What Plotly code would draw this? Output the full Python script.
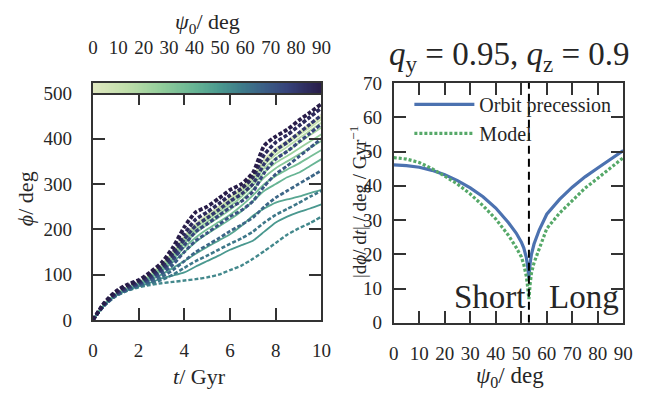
import numpy as np
import plotly.graph_objects as go
from plotly.colors import sample_colorscale

# ---------------- data ----------------
# time grid of the integrated orbits (Gyr)
t_gyr = [0, 0.5, 1, 1.5, 2, 2.5, 3, 3.5, 4, 4.5, 5, 5.5, 6, 6.5, 7, 7.5, 8, 8.5, 9, 9.5, 10]

# initial tilt angles of the orbits (deg); short-axis tubes below the critical angle
psi_short = [0, 5, 10, 15, 20, 25, 30, 35, 40, 45, 50]
psi_long = [55, 60, 65, 70, 75, 80, 85, 90]

# accumulated precession angle phi(t) (deg) for each orbit
phi_short = [
    [0, 35, 58, 72, 83, 101, 122, 150, 185, 212, 232, 250, 270, 293, 320, 355, 378, 396, 414, 433, 452],
    [0, 35, 58, 72, 82, 100, 122, 149, 184, 211, 231, 248, 268, 291, 318, 352, 375, 393, 411, 430, 448],
    [0, 35, 58, 71, 82, 100, 121, 148, 183, 209, 229, 246, 266, 288, 315, 348, 371, 389, 407, 425, 443],
    [0, 35, 57, 71, 82, 99, 120, 147, 181, 207, 226, 243, 262, 284, 310, 342, 365, 382, 400, 418, 435],
    [0, 35, 57, 71, 81, 98, 119, 145, 178, 203, 222, 238, 257, 279, 304, 335, 357, 373, 390, 408, 425],
    [0, 34, 57, 70, 81, 97, 117, 142, 173, 198, 217, 233, 251, 272, 297, 326, 347, 362, 378, 394, 410],
    [0, 34, 56, 70, 80, 96, 115, 138, 168, 192, 210, 226, 243, 264, 288, 315, 335, 350, 365, 380, 395],
    [0, 34, 56, 69, 79, 94, 112, 134, 160, 182, 200, 216, 232, 252, 275, 300, 318, 332, 345, 360, 375],
    [0, 33, 55, 68, 78, 92, 108, 128, 150, 172, 190, 206, 222, 240, 262, 285, 300, 315, 325, 340, 355],
    [0, 33, 54, 66, 76, 88, 100, 115, 130, 146, 161, 175, 189, 208, 230, 246, 259, 266, 272, 280, 287],
    [0, 32, 53, 65, 74, 82, 92, 98, 105, 118, 130, 142, 155, 165, 175, 195, 215, 228, 238, 246, 255],
]
phi_long = [
    [0, 31, 52, 64, 72, 77, 81, 84, 87, 90, 94, 100, 110, 120, 135, 152, 170, 188, 202, 214, 228],
    [0, 32, 53, 65, 74, 80, 88, 100, 115, 130, 142, 155, 168, 180, 195, 215, 232, 245, 258, 272, 285],
    [0, 32, 54, 66, 76, 84, 95, 110, 130, 150, 165, 180, 196, 210, 226, 250, 270, 285, 300, 315, 330],
    [0, 33, 55, 68, 78, 88, 102, 122, 150, 175, 192, 210, 228, 242, 262, 295, 322, 340, 360, 380, 400],
    [0, 34, 56, 70, 80, 92, 108, 132, 165, 195, 212, 230, 248, 262, 283, 325, 355, 372, 392, 412, 433],
    [0, 35, 58, 72, 82, 95, 112, 140, 178, 208, 225, 243, 262, 278, 300, 345, 375, 392, 412, 432, 452],
    [0, 36, 60, 75, 85, 100, 118, 148, 190, 222, 238, 256, 275, 290, 315, 365, 392, 408, 428, 448, 468],
    [0, 38, 63, 78, 88, 105, 126, 160, 205, 238, 250, 268, 287, 300, 325, 385, 405, 420, 440, 458, 477],
]

# mean precession rate against initial tilt (deg / Gyr)
psi_rate = [0, 5, 10, 15, 20, 25, 30, 35, 40, 45, 48, 50, 51, 52, 52.5, 53,
            53.5, 54, 55, 57, 60, 65, 70, 75, 80, 85, 90]
rate_orbit = [46.1, 45.9, 45.4, 44.5, 43.2, 41.5, 39.4, 36.8, 33.5, 29.2, 26.2, 23.6, 21.8, 19.0, 16.5, 13.0,
              17.5, 20.0, 23.0, 27.0, 31.7, 36.0, 39.6, 42.6, 45.2, 47.8, 50.3]
rate_model = [48.2, 47.8, 46.8, 45.0, 42.8, 40.5, 37.6, 34.2, 30.3, 25.5, 22.0, 19.3, 17.0, 13.5, 10.5, 6.9,
              11.5, 14.5, 17.5, 21.5, 27.5, 32.0, 35.8, 39.3, 42.2, 45.3, 48.2]

psi_crit = 53          # boundary between short- and long-axis tubes (deg)
qy, qz = 0.95, 0.9     # axis ratios of the potential

t_ticks = [0, 2, 4, 6, 8, 10]
phi_ticks = [0, 100, 200, 300, 400, 500]
psi_ticks = list(range(0, 91, 10))
rate_ticks = list(range(0, 71, 10))

# ---------------- style ----------------
FONT = "Liberation Serif"
INK = "#262626"
FRAME = "#333333"
W, H = 645, 403
TICK_SIZE = 19

psi_scale = [
    [0.00, "#e0e8c0"], [0.15, "#bfdeaa"], [0.30, "#92cd9b"], [0.45, "#65b394"],
    [0.55, "#4b9a8f"], [0.65, "#3e7c8a"], [0.75, "#3b5e86"], [0.85, "#36427a"],
    [1.00, "#281c48"],
]

def px_x(p):
    return p / W

def px_y(p):
    return (H - p) / H

fig = go.Figure()

# left panel: phi(t) for each orbit, coloured by psi_0
for psi, phi in zip(psi_short, phi_short):
    col = sample_colorscale(psi_scale, psi / 90)[0]
    fig.add_trace(go.Scatter(x=t_gyr, y=phi, mode="lines", xaxis="x", yaxis="y",
                             line=dict(color=col, width=1.8, shape="spline", smoothing=0.6),
                             showlegend=False, hoverinfo="skip"))
for psi, phi in zip(psi_long, phi_long):
    col = sample_colorscale(psi_scale, psi / 90)[0]
    fig.add_trace(go.Scatter(x=t_gyr, y=phi, mode="lines", xaxis="x", yaxis="y",
                             line=dict(color=col, width=2.4 + 1.4 * (psi - 55) / 35,
                                       dash="4px,2px", shape="spline", smoothing=0.6),
                             showlegend=False, hoverinfo="skip"))

# colour bar drawn as a one-row heatmap on its own axes
psi_grid = np.linspace(0, 90, 181)
fig.add_trace(go.Heatmap(z=[psi_grid], x=psi_grid, y=[0], xaxis="x3", yaxis="y3",
                         colorscale=psi_scale, zmin=0, zmax=90, showscale=False,
                         hoverinfo="skip"))

# right panel: precession rate
fig.add_trace(go.Scatter(x=psi_rate, y=rate_orbit, mode="lines", xaxis="x2", yaxis="y2",
                         name="Orbit precession", line=dict(color="#4c72b0", width=3.2)))
fig.add_trace(go.Scatter(x=psi_rate, y=rate_model, mode="lines", xaxis="x2", yaxis="y2",
                         name="Model", line=dict(color="#55a868", width=3.2, dash="3px,2px")))
fig.add_trace(go.Scatter(x=[psi_crit, psi_crit], y=[0, 70], mode="lines", xaxis="x2", yaxis="y2",
                         showlegend=False, hoverinfo="skip",
                         line=dict(color="black", width=2, dash="8px,5px")))

# empty traces that register the overlaid tick-mark axes
for xa, ya in (("x4", "y4"), ("x5", "y5")):
    fig.add_trace(go.Scatter(x=[], y=[], xaxis=xa, yaxis=ya, mode="lines",
                             showlegend=False, hoverinfo="skip"))

# labelled axes: frame + tick labels
label_axis = dict(showline=True, linecolor=FRAME, linewidth=2, mirror=True,
                  ticks="", showgrid=False, zeroline=False,
                  tickfont=dict(family=FONT, size=TICK_SIZE, color=INK))
# overlaid axes carrying the inward tick marks on all four sides
tick_axis = dict(showline=False, ticks="inside", ticklen=12, tickwidth=2, tickcolor=FRAME,
                 mirror="allticks", showticklabels=False, showgrid=False, zeroline=False,
                 layer="above traces")

fig.update_layout(
    width=W, height=H,
    margin=dict(l=0, r=0, t=0, b=0),
    paper_bgcolor="white", plot_bgcolor="white",
    font=dict(family=FONT, color=INK),
    xaxis=dict(domain=[px_x(90), px_x(324)], anchor="y", range=[0, 10],
               tickvals=t_ticks, ticklabelstandoff=12, **label_axis),
    yaxis=dict(domain=[px_y(327), px_y(88)], anchor="x", range=[0, 500],
               tickvals=phi_ticks, ticklabelstandoff=15, **label_axis),
    xaxis2=dict(domain=[px_x(398), px_x(633)], anchor="y2", range=[0, 90],
                tickvals=psi_ticks, ticklabelstandoff=12, **label_axis),
    yaxis2=dict(domain=[px_y(330), px_y(77)], anchor="x2", range=[0, 70],
                tickvals=rate_ticks, ticklabelstandoff=6, **label_axis),
    xaxis4=dict(overlaying="x", anchor="y4", range=[0, 10], tickvals=t_ticks, **tick_axis),
    yaxis4=dict(overlaying="y", anchor="x4", range=[0, 500], tickvals=phi_ticks, **tick_axis),
    xaxis5=dict(overlaying="x2", anchor="y5", range=[0, 90], tickvals=psi_ticks, **tick_axis),
    yaxis5=dict(overlaying="y2", anchor="x5", range=[0, 70], tickvals=rate_ticks, **tick_axis),
    xaxis3=dict(domain=[px_x(90), px_x(324)], anchor="y3", range=[0, 90], side="top",
                tickvals=psi_ticks, ticks="", showline=True, mirror=True,
                linecolor=FRAME, linewidth=2, showgrid=False, zeroline=False,
                ticklabelstandoff=19, tickfont=dict(family=FONT, size=TICK_SIZE, color=INK)),
    yaxis3=dict(domain=[px_y(88), px_y(77)], anchor="x3", range=[-0.5, 0.5],
                showticklabels=False, ticks="", showline=True, mirror=True,
                linecolor=FRAME, linewidth=2, showgrid=False, zeroline=False),
    legend=dict(x=px_x(414), y=px_y(79), xanchor="left", yanchor="top",
                itemwidth=60,
                bgcolor="rgba(0,0,0,0)", font=dict(family=FONT, size=20, color=INK)),
)

annotations = [
    dict(text="<i>ψ</i><sub>0</sub>/ deg", x=px_x(207), y=px_y(14), font_size=22),
    dict(text="<i>t</i>/ Gyr", x=px_x(199), y=px_y(387), font_size=22),
    dict(text="<i>ψ</i><sub>0</sub>/ deg", x=px_x(517), y=px_y(387), font_size=23),
    dict(text="<i>ϕ</i>/ deg", x=px_x(21), y=px_y(199), font_size=22, textangle=-90),
    dict(text="|d<i>ϕ</i>/ d<i>t</i>| / deg / Gyr<sup>−1</sup>", x=px_x(362), y=px_y(203),
         font_size=19, textangle=-90),
    dict(text=f"<i>q</i><sub>y</sub> = {qy}, <i>q</i><sub>z</sub> = {qz}",
         x=px_x(516), y=px_y(49), font_size=33),
]
for a in annotations:
    fig.add_annotation(xref="paper", yref="paper", showarrow=False,
                       xanchor="center", yanchor="middle",
                       font=dict(family=FONT, color=INK, size=a.pop("font_size")), **a)

fig.add_annotation(text="Short", x=psi_crit, y=0, xref="x2", yref="y2", showarrow=False,
                   xanchor="right", yanchor="bottom", xshift=-1, yshift=6,
                   font=dict(family=FONT, size=33, color=INK))
fig.add_annotation(text="Long", x=psi_crit, y=0, xref="x2", yref="y2", showarrow=False,
                   xanchor="left", yanchor="bottom", xshift=18, yshift=6,
                   font=dict(family=FONT, size=33, color=INK))

fig.write_html("out.html")
